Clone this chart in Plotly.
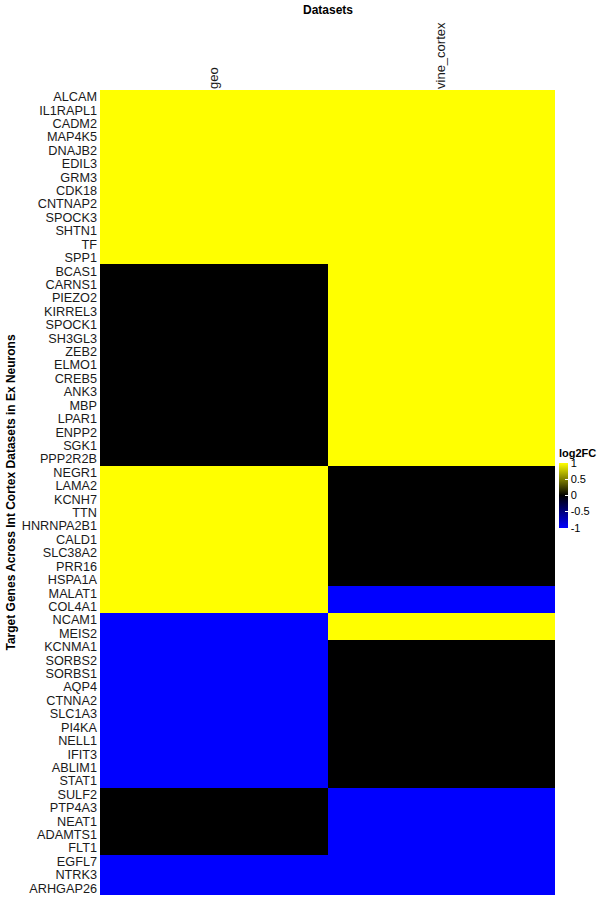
import plotly.graph_objects as go

genes = ["ALCAM", "IL1RAPL1", "CADM2", "MAP4K5", "DNAJB2", "EDIL3", "GRM3", "CDK18", "CNTNAP2",
         "SPOCK3", "SHTN1", "TF", "SPP1",
         "BCAS1", "CARNS1", "PIEZO2", "KIRREL3", "SPOCK1", "SH3GL3", "ZEB2", "ELMO1", "CREB5",
         "ANK3", "MBP", "LPAR1", "ENPP2", "SGK1", "PPP2R2B",
         "NEGR1", "LAMA2", "KCNH7", "TTN", "HNRNPA2B1", "CALD1", "SLC38A2", "PRR16", "HSPA1A",
         "MALAT1", "COL4A1",
         "NCAM1", "MEIS2",
         "KCNMA1", "SORBS2", "SORBS1", "AQP4", "CTNNA2", "SLC1A3", "PI4KA", "NELL1", "IFIT3",
         "ABLIM1", "STAT1",
         "SULF2", "PTP4A3", "NEAT1", "ADAMTS1", "FLT1",
         "EGFL7", "NTRK3", "ARHGAP26"]

datasets = ["geo", "vine_cortex"]

geo = [1]*13 + [0]*15 + [1]*9 + [1]*2 + [-1]*2 + [-1]*11 + [0]*5 + [-1]*3
vine_cortex = [1]*13 + [1]*15 + [0]*9 + [-1]*2 + [1]*2 + [0]*11 + [-1]*5 + [-1]*3

cbar_ticks = [1, 0.5, 0, -0.5, -1]

z = [[g, v] for g, v in zip(geo, vine_cortex)]

fig = go.Figure(go.Heatmap(
    z=z, x=datasets, y=genes,
    zmin=-1, zmax=1,
    colorscale=[[0, "#0000FF"], [0.5, "#000000"], [1, "#FFFF00"]],
    hoverongaps=False,
    colorbar=dict(
        title=dict(text="<b>log2FC</b>", font=dict(size=11, color="#000")),
        thickness=9, thicknessmode="pixels",
        len=82, lenmode="pixels", ypad=0, xpad=4,
        x=1.0, xanchor="left",
        y=0.507, yanchor="middle",
        outlinewidth=0,
        tickvals=cbar_ticks,
        ticktext=[str(t) for t in cbar_ticks],
        ticks="inside", tickcolor="white", ticklen=3,
        tickfont=dict(size=11, color="#000"),
    ),
))

fig.update_layout(
    width=600, height=900,
    margin=dict(l=100, r=45, t=90, b=5, autoexpand=False),
    paper_bgcolor="white", plot_bgcolor="white",
    font=dict(family="Liberation Sans, Arial, sans-serif", color="#000"),
    xaxis=dict(side="top", tickangle=-90, showgrid=False, zeroline=False, ticks="",
               tickfont=dict(size=13, color="#1a1a1a"), automargin=False),
    yaxis=dict(autorange="reversed", showgrid=False, zeroline=False, ticks="",
               tickmode="array", tickvals=genes, ticktext=genes, ticklabelstandoff=2,
               tickfont=dict(size=12.7, color="#1a1a1a"), automargin=False),
    annotations=[
        dict(text="<b>Datasets</b>", x=0.5, y=1, xref="paper", yref="paper",
             yshift=80, showarrow=False, font=dict(size=12), yanchor="middle"),
        dict(text="<b>Target Genes Across Int Cortex Datasets in Ex Neurons</b>",
             x=0, y=0.5, xref="paper", yref="paper", xshift=-90, textangle=-90,
             showarrow=False, font=dict(size=12), xanchor="center"),
    ],
)

fig.write_html("out.html", config={"displayModeBar": False},
               post_script="document.body.style.margin='0';")
